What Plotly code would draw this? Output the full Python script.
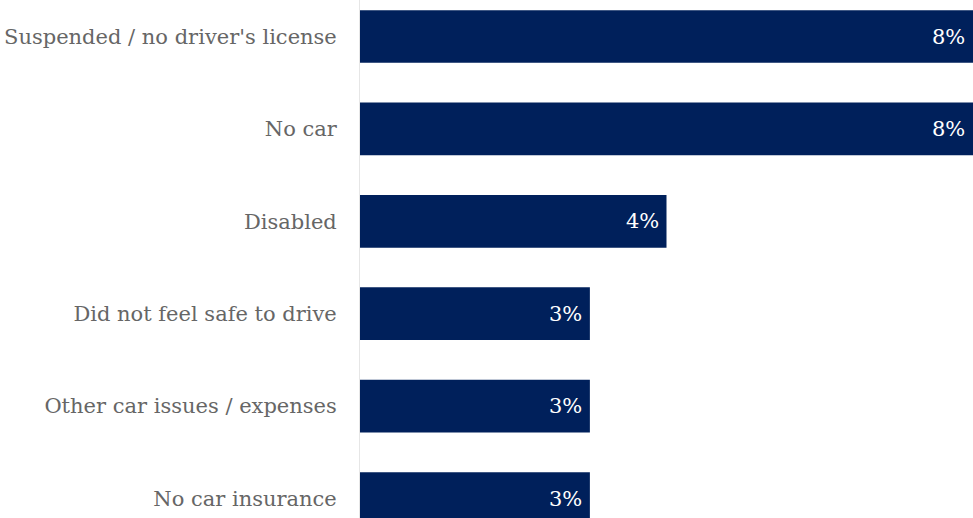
import plotly.graph_objects as go

categories = [
    "Suspended / no driver's license",
    "No car",
    "Disabled",
    "Did not feel safe to drive",
    "Other car issues / expenses",
    "No car insurance",
]
shares = [8, 8, 4, 3, 3, 3]

BAR_COLOR = "#00205b"
FONT = "DejaVu Serif"

fig = go.Figure(
    go.Bar(
        x=shares,
        y=categories,
        orientation="h",
        width=0.57,
        marker=dict(color=BAR_COLOR, line=dict(width=0)),
        hoverinfo="skip",
    )
)

# value labels placed just inside the end of each bar
for cat, val in zip(categories, shares):
    fig.add_annotation(
        x=val, y=cat, text=f"{val}%", showarrow=False,
        xanchor="right", xshift=-6,
        font=dict(family=FONT, size=21, color="white"),
    )

fig.update_layout(
    width=973, height=518,
    margin=dict(l=360, r=0, t=0, b=0),
    paper_bgcolor="white", plot_bgcolor="white",
    showlegend=False,
    xaxis=dict(range=[0, 8], visible=False, fixedrange=True),
    yaxis=dict(
        range=[5.211, -0.395],
        showgrid=False, zeroline=False,
        showline=True, linecolor="#e6e6e6", linewidth=1,
        ticks="", ticklabelstandoff=18,
        tickfont=dict(family=FONT, size=21, color="#666666"),
    ),
)

fig.write_html("out.html")
